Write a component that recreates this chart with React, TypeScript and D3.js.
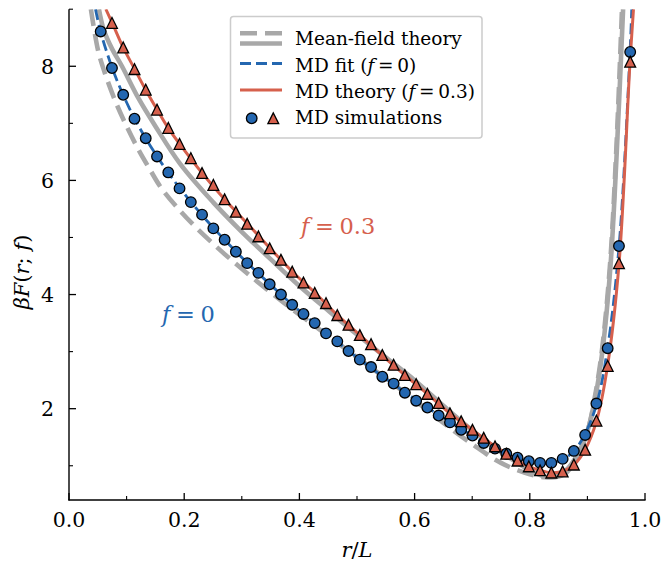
import React from "react";
import * as d3 from "d3";

// ---------- data ----------
// r/L positions of the MD simulation samples
const simX = [0.055, 0.0746, 0.0941, 0.1137, 0.1332, 0.1528, 0.1724, 0.1919, 0.2115, 0.231, 0.2506, 0.2702, 0.2897, 0.3093, 0.3288, 0.3484, 0.368, 0.3875, 0.4071, 0.4266, 0.4462, 0.4658, 0.4853, 0.5049, 0.5244, 0.544, 0.5636, 0.5831, 0.6027, 0.6222, 0.6418, 0.6614, 0.6809, 0.7005, 0.72, 0.7396, 0.7592, 0.7787, 0.7983, 0.8178, 0.8374, 0.857, 0.8765, 0.8961, 0.9156, 0.9352, 0.9548, 0.9743];
// MD simulations, f = 0 (circles)
const simF0 = [8.61, 7.97, 7.5, 7.08, 6.74, 6.42, 6.14, 5.86, 5.62, 5.4, 5.16, 4.96, 4.75, 4.55, 4.38, 4.18, 4.0, 3.82, 3.66, 3.5, 3.32, 3.18, 3.01, 2.86, 2.73, 2.56, 2.44, 2.28, 2.14, 2.02, 1.88, 1.76, 1.63, 1.53, 1.4, 1.3, 1.21, 1.14, 1.08, 1.05, 1.05, 1.12, 1.26, 1.54, 2.09, 3.06, 4.85, 8.25];
// MD simulations, f = 0.3 (triangles); first sample lies above the frame
const simF03 = [9.6, 8.76, 8.33, 7.95, 7.59, 7.24, 6.92, 6.64, 6.39, 6.13, 5.92, 5.67, 5.45, 5.24, 5.02, 4.81, 4.61, 4.4, 4.21, 4.03, 3.85, 3.64, 3.47, 3.29, 3.13, 2.94, 2.77, 2.59, 2.43, 2.26, 2.1, 1.92, 1.78, 1.63, 1.49, 1.34, 1.21, 1.09, 0.99, 0.92, 0.88, 0.9, 1.02, 1.28, 1.79, 2.75, 4.55, 8.08];

// MD fit (f = 0)
const fitX = [0.046, 0.055, 0.075, 0.094, 0.114, 0.133, 0.153, 0.172, 0.192, 0.231, 0.27, 0.31, 0.349, 0.388, 0.427, 0.466, 0.505, 0.544, 0.583, 0.622, 0.661, 0.7, 0.74, 0.779, 0.818, 0.837, 0.857, 0.877, 0.896, 0.916, 0.935, 0.955, 0.974, 0.977];
const fitY = [9.0, 8.6, 7.97, 7.5, 7.08, 6.74, 6.42, 6.14, 5.87, 5.39, 4.96, 4.55, 4.18, 3.82, 3.49, 3.17, 2.86, 2.57, 2.29, 2.02, 1.77, 1.53, 1.3, 1.13, 1.05, 1.05, 1.11, 1.26, 1.56, 2.08, 3.06, 4.85, 8.25, 9.0];

// MD theory (f = 0.3)
const theoryX = [0.064, 0.075, 0.094, 0.114, 0.133, 0.153, 0.172, 0.192, 0.231, 0.27, 0.31, 0.349, 0.388, 0.427, 0.466, 0.505, 0.544, 0.583, 0.622, 0.661, 0.7, 0.74, 0.779, 0.798, 0.818, 0.837, 0.857, 0.877, 0.896, 0.916, 0.935, 0.955, 0.974, 0.98];
const theoryY = [9.0, 8.76, 8.33, 7.95, 7.59, 7.24, 6.92, 6.64, 6.13, 5.67, 5.24, 4.81, 4.4, 4.03, 3.64, 3.29, 2.93, 2.59, 2.26, 1.92, 1.63, 1.34, 1.09, 0.99, 0.92, 0.88, 0.9, 1.02, 1.28, 1.79, 2.75, 4.55, 8.08, 9.0];

// Mean-field theory, f = 0 (dashed)
const mfF0X = [0.038, 0.05, 0.06, 0.08, 0.1, 0.12, 0.14, 0.16, 0.19, 0.22, 0.26, 0.3, 0.34, 0.38, 0.42, 0.46, 0.5, 0.55, 0.6, 0.65, 0.7, 0.75, 0.8, 0.83, 0.86, 0.88, 0.9, 0.913, 0.925, 0.939, 0.95, 0.96];
const mfF0Y = [9.0, 8.3, 7.95, 7.4, 6.95, 6.55, 6.2, 5.87, 5.5, 5.18, 4.8, 4.45, 4.12, 3.8, 3.5, 3.2, 2.9, 2.53, 2.15, 1.75, 1.38, 1.05, 0.85, 0.8, 0.9, 1.15, 1.6, 2.21, 3.0, 4.49, 6.5, 9.0];

// Mean-field theory, f = 0.3 (solid)
const mfF03X = [0.052, 0.06, 0.075, 0.092, 0.12, 0.15, 0.193, 0.25, 0.3, 0.35, 0.4, 0.45, 0.5, 0.55, 0.6, 0.65, 0.7, 0.75, 0.8, 0.83, 0.86, 0.88, 0.9, 0.914, 0.926, 0.94, 0.951, 0.962];
const mfF03Y = [9.0, 8.65, 8.3, 8.0, 7.45, 6.95, 6.29, 5.62, 5.1, 4.62, 4.15, 3.72, 3.3, 2.9, 2.5, 2.05, 1.62, 1.24, 0.92, 0.8, 0.85, 1.1, 1.6, 2.21, 3.0, 4.49, 6.5, 9.0];

const xTicksMajor = [0, 0.2, 0.4, 0.6, 0.8, 1.0];
const xTicksMinor = [0.1, 0.3, 0.5, 0.7, 0.9];
const yTicksMajor = [2, 4, 6, 8];
const yTicksMinor = [1, 3, 5, 7, 9];

// ---------- styles ----------
const W = 665;
const H = 567;
const BLUE = "#2467b0";
const RED = "#d6604d";
const GRAY = "#a8a8a8";
const FONT = "'DejaVu Serif', serif";
const TS = "\u2009";
const MS = "\u2005";

const x = d3.scaleLinear().domain([0, 1]).range([69, 645]);
const y = d3.scaleLinear().domain([0.4, 9]).range([500, 9.2]);

const line = (xs: number[], ys: number[]) =>
  d3
    .line<number>()
    .x((_, i) => x(xs[i]))
    .y((d) => y(d))
    .curve(d3.curveCatmullRom.alpha(0.5))(ys) || "";

function triPath(cx: number, cy: number, s: number) {
  return `M${cx},${cy - s}L${cx - s},${cy + s}L${cx + s},${cy + s}Z`;
}

export default function App() {
  const plotLeft = x(0);
  const plotRight = x(1);
  const plotTop = y(9);
  const plotBottom = y(0.4);

  return (
    <svg
      width={W}
      height={H}
      viewBox={`0 0 ${W} ${H}`}
      style={{ position: "absolute", left: 0, top: 0, background: "#fff" }}
      fontFamily={FONT}
    >
      <defs>
        <clipPath id="plotclip">
          <rect x={plotLeft} y={plotTop} width={plotRight - plotLeft} height={plotBottom - plotTop} />
        </clipPath>
      </defs>

      <g clipPath="url(#plotclip)">
        <path d={line(mfF0X, mfF0Y)} fill="none" stroke={GRAY} strokeWidth={4.6} strokeDasharray="17,8" />
        <path d={line(mfF03X, mfF03Y)} fill="none" stroke={GRAY} strokeWidth={4.6} />
        <path d={line(fitX, fitY)} fill="none" stroke={BLUE} strokeWidth={2.8} strokeDasharray="11,5" />
        <path d={line(theoryX, theoryY)} fill="none" stroke={RED} strokeWidth={3} />
        {simX.map((v, i) => (
          <circle key={"c" + i} cx={x(v)} cy={y(simF0[i])} r={5.3} fill={BLUE} stroke="#000" strokeWidth={1.3} />
        ))}
        {simX.map((v, i) => (
          <path key={"t" + i} d={triPath(x(v), y(simF03[i]), 5.4)} fill={RED} stroke="#000" strokeWidth={1.3} strokeLinejoin="miter" />
        ))}
      </g>

      {/* axes */}
      <line x1={plotLeft} x2={plotLeft} y1={plotTop} y2={plotBottom + 0.6} stroke="#000" strokeWidth={1.4} />
      <line x1={plotLeft - 0.6} x2={plotRight + 0.6} y1={plotBottom} y2={plotBottom} stroke="#000" strokeWidth={1.4} />
      {xTicksMajor.map((t) => (
        <g key={"xt" + t}>
          <line x1={x(t)} x2={x(t)} y1={plotBottom} y2={plotBottom - 7} stroke="#000" strokeWidth={1.3} />
          <text x={x(t)} y={527} textAnchor="middle" fontSize={20.5}>
            {t.toFixed(1)}
          </text>
        </g>
      ))}
      {xTicksMinor.map((t) => (
        <line key={"xm" + t} x1={x(t)} x2={x(t)} y1={plotBottom} y2={plotBottom - 4} stroke="#000" strokeWidth={1.1} />
      ))}
      {yTicksMajor.map((t) => (
        <g key={"yt" + t}>
          <line x1={plotLeft} x2={plotLeft + 7} y1={y(t)} y2={y(t)} stroke="#000" strokeWidth={1.3} />
          <text x={54} y={y(t) + 7.5} textAnchor="end" fontSize={20.5}>
            {t}
          </text>
        </g>
      ))}
      {yTicksMinor.map((t) => (
        <line key={"ym" + t} x1={plotLeft} x2={plotLeft + 4} y1={y(t)} y2={y(t)} stroke="#000" strokeWidth={1.1} />
      ))}

      {/* axis labels */}
      <text x={357} y={557} textAnchor="middle" fontSize={21} fontStyle="italic">
        r<tspan fontStyle="normal">/</tspan>L
      </text>
      <text transform="translate(29,272) rotate(-90)" textAnchor="middle" fontSize={21}>
        <tspan fontStyle="italic">βF</tspan>(<tspan fontStyle="italic">r</tspan>; <tspan fontStyle="italic">f</tspan>)
      </text>

      {/* annotations */}
      <text x={301} y={234} fontSize={22.5} fill={RED}>
        <tspan fontStyle="italic">f</tspan>{MS}={MS}0.3
      </text>
      <text x={162} y={322} fontSize={22.5} fill={BLUE}>
        <tspan fontStyle="italic">f</tspan>{MS}={MS}0
      </text>

      {/* legend */}
      <g>
        <rect x={230.5} y={16.5} width={251.5} height={121.5} rx={3} fill="#fff" fillOpacity={0.85} stroke="#cccccc" strokeWidth={1.5} />
        <line x1={240} x2={282} y1={33.3} y2={33.3} stroke={GRAY} strokeWidth={4.6} strokeDasharray="17,8" />
        <line x1={240} x2={282} y1={43.5} y2={43.5} stroke={GRAY} strokeWidth={4.6} />
        <text x={295} y={45} fontSize={18.5}>Mean-field theory</text>
        <line x1={240} x2={282} y1={63.5} y2={63.5} stroke={BLUE} strokeWidth={2.8} strokeDasharray="11,5" />
        <text x={295} y={71.5} fontSize={18.5}>
          MD fit (<tspan fontStyle="italic">f</tspan>{TS}={TS}0)
        </text>
        <line x1={240} x2={282} y1={90} y2={90} stroke={RED} strokeWidth={3} />
        <text x={295} y={97.5} fontSize={18.5}>
          MD theory (<tspan fontStyle="italic">f</tspan>{TS}={TS}0.3)
        </text>
        <circle cx={251.7} cy={118.3} r={5.3} fill={BLUE} stroke="#000" strokeWidth={1.3} />
        <path d={triPath(273.3, 118.3, 5.4)} fill={RED} stroke="#000" strokeWidth={1.3} />
        <text x={295} y={123.5} fontSize={18.5}>MD simulations</text>
      </g>
    </svg>
  );
}
